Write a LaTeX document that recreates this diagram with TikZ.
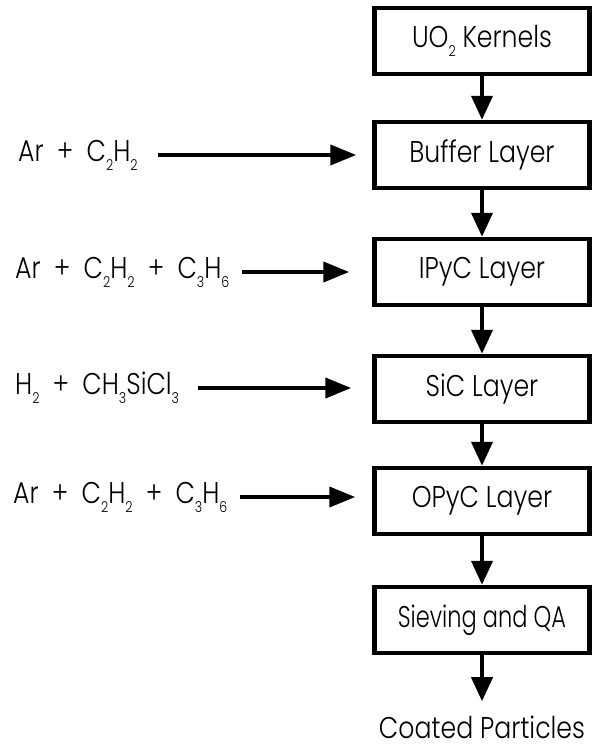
\documentclass[tikz,border=0pt]{standalone}
\usepackage{graphicx}
\usepackage{fontspec}
\setmainfont{Poppins}[UprightFont={* Light}]
\usetikzlibrary{arrows.meta,positioning}
% slightly condensed setting of all labels
\newcommand{\cond}[2][0.84]{\scalebox{#1}[1]{#2}}
% small lowered subscript for chemical formulae
\newcommand{\chsub}[1]{\raisebox{-0.3em}{\fontsize{15}{15}\selectfont #1}}
% widely spaced plus sign between reactants
\newcommand{\pl}{\hspace{0.25em} + \hspace{0.25em}}
\tikzset{
  txt/.style={inner sep=0pt, font=\fontsize{30}{34}\selectfont},
  stage/.style={txt, draw, line width=4.5pt, minimum width=215pt, minimum height=66pt},
  gas/.style={txt, anchor=west},
  flow/.style={line width=4pt, -{Triangle[length=24pt,width=21pt]}},
  feed/.style={line width=4pt, -{Triangle[length=26pt,width=20pt]}},
}
\begin{document}
\begin{tikzpicture}[x=1pt,y=-1pt]
\useasboundingbox (0,0) rectangle (592,747);

% process stages
\node[stage] (uo2)   at (482,41)  {\cond{UO\chsub{2} Kernels}};
\node[stage] (buf)   at (482,155) {\cond{Buffer Layer}};
\node[stage] (ipyc)  at (482,272) {\cond{IPyC Layer}};
\node[stage] (sic)   at (482,389) {\cond{SiC Layer}};
\node[stage] (opyc)  at (482,501) {\cond{OPyC Layer}};
\node[stage] (sieve) at (482,620) {\cond[0.75]{Sieving and QA}};
\node[txt, anchor=base] (out) at (482,738) {\cond{Coated Particles}};

% precursor gases
\node[gas] (g1) at (18,155) {\cond{Ar\pl C\chsub{2}H\chsub{2}}};
\node[gas] (g2) at (15,272) {\cond{Ar\pl C\chsub{2}H\chsub{2}\pl C\chsub{3}H\chsub{6}}};
\node[gas] (g3) at (15,388) {\cond{H\chsub{2}\pl CH\chsub{3}SiCl\chsub{3}}};
\node[gas] (g4) at (13,497) {\cond{Ar\pl C\chsub{2}H\chsub{2}\pl C\chsub{3}H\chsub{6}}};

% start points of the gas feed lines
\coordinate (f1) at (158,155);
\coordinate (f2) at (242,272);
\coordinate (f3) at (198,388);
\coordinate (f4) at (240,497);

% main flow
\draw[flow] (uo2) -- (buf);
\draw[flow] (buf) -- (ipyc);
\draw[flow] (ipyc) -- (sic);
\draw[flow] (sic) -- (opyc);
\draw[flow] (opyc) -- (sieve);
\draw[flow] (sieve) -- ([yshift=14pt]out.north);

% gas feeds
\draw[feed] (f1) -- ([xshift=-16pt]f1 -| buf.west);
\draw[feed] (f2) -- ([xshift=-23pt]f2 -| ipyc.west);
\draw[feed] (f3) -- ([xshift=-21pt]f3 -| sic.west);
\draw[feed] (f4) -- ([xshift=-17pt]f4 -| opyc.west);
\end{tikzpicture}
\end{document}
